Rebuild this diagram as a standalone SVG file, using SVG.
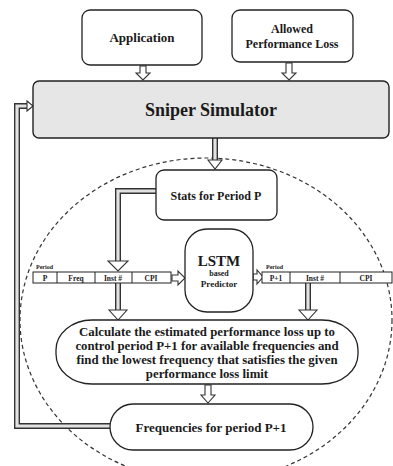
<svg xmlns="http://www.w3.org/2000/svg" width="393" height="466" viewBox="0 0 393 466">
<style>
.box{fill:#fff;stroke:#222;stroke-width:1.3}
.t{font-family:"Liberation Serif","Times New Roman",serif;font-weight:bold;fill:#1a1a1a;text-anchor:middle}
.arr{fill:#fff;stroke:#333;stroke-width:1.1;stroke-linejoin:miter}
.dbo{fill:none;stroke:#333;stroke-width:6}
.dbi{fill:none;stroke:#e2e2e2;stroke-width:3.2}
.cell{fill:#fff;stroke:#222;stroke-width:1}
</style>
<rect width="393" height="466" fill="#fff"/>
<ellipse cx="206" cy="320" rx="186" ry="162" fill="none" stroke="#333" stroke-width="1.2" stroke-dasharray="4 3"/>

<g id="connectors">
  <path class="dbo" d="M110 426 H17 V106 H29"/>
  <path class="dbi" d="M110 426 H17 V106 H29"/>
  <polygon class="arr" points="27,101 33,106 27,111"/>
  <path class="dbo" d="M156 191 H118 V262"/>
  <path class="dbi" d="M156 191 H118 V262"/>
  <polygon class="arr" points="108,261 128,261 118,271"/>
  <path class="dbo" d="M215 138 V161"/>
  <path class="dbi" d="M215 138 V161"/>
  <polygon class="arr" points="208,160 222,160 215,169"/>
  <polygon class="arr" points="140,66 146,66 146,73 150,73 143,80 136,73 140,73"/>
  <polygon class="arr" points="286,63 292,63 292,73 296,73 289,80 282,73 286,73"/>
  <path class="dbo" d="M118 283 V311"/>
  <path class="dbi" d="M118 283 V311"/>
  <polygon class="arr" points="109,310 127,310 118,320"/>
  <path class="dbo" d="M308 283 V311"/>
  <path class="dbi" d="M308 283 V311"/>
  <polygon class="arr" points="299,310 317,310 308,320"/>
  <polygon class="arr" points="172,275 178,275 178,271 185,278 178,285 178,281 172,281"/>
  <polygon class="arr" points="253,274 257,274 257,270 263,277 257,284 257,280 253,280"/>
  <polygon class="arr" points="205,385 211,385 211,395 215,395 208,403 201,395 205,395"/>
</g>

<g id="application">
  <rect class="box" x="82" y="10" width="120" height="55" rx="8"/>
  <text class="t" x="142" y="42" font-size="13">Application</text>
</g>
<g id="allowed">
  <rect class="box" x="232" y="10" width="121" height="52" rx="8"/>
  <text class="t" x="292" y="33" font-size="12">Allowed</text>
  <text class="t" x="292" y="48" font-size="12">Performance Loss</text>
</g>
<g id="sniper">
  <rect x="33" y="81" width="356" height="57" rx="6" fill="#e6e6e6" stroke="#222" stroke-width="1.4"/>
  <text class="t" x="211" y="116" font-size="18">Sniper Simulator</text>
</g>
<g id="stats">
  <rect class="box" x="156" y="170" width="121" height="50" rx="8"/>
  <text class="t" x="216" y="200" font-size="12">Stats for Period P</text>
</g>
<g id="table-p">
  <text class="t" x="36" y="269" font-size="6" style="text-anchor:start">Period</text>
  <rect class="cell" x="33" y="272" width="138" height="11"/>
  <line x1="57" y1="272" x2="57" y2="283" stroke="#222"/>
  <line x1="95" y1="272" x2="95" y2="283" stroke="#222"/>
  <line x1="132" y1="272" x2="132" y2="283" stroke="#222"/>
  <text class="t" x="45" y="281" font-size="7.5">P</text>
  <text class="t" x="76" y="281" font-size="7.5">Freq</text>
  <text class="t" x="113" y="281" font-size="7.5">Inst #</text>
  <text class="t" x="151" y="281" font-size="7.5">CPI</text>
</g>
<g id="lstm">
  <rect class="box" x="185" y="229" width="68" height="83" rx="22"/>
  <text class="t" x="219" y="266" font-size="15">LSTM</text>
  <text class="t" x="219" y="276" font-size="8">based</text>
  <text class="t" x="219" y="287" font-size="9">Predictor</text>
</g>
<g id="table-p1">
  <text class="t" x="266" y="269" font-size="6" style="text-anchor:start">Period</text>
  <rect class="cell" x="262" y="272" width="130" height="11"/>
  <line x1="290" y1="272" x2="290" y2="283" stroke="#222"/>
  <line x1="340" y1="272" x2="340" y2="283" stroke="#222"/>
  <text class="t" x="276" y="281" font-size="7.5">P+1</text>
  <text class="t" x="315" y="281" font-size="7.5">Inst #</text>
  <text class="t" x="366" y="281" font-size="7.5">CPI</text>
</g>
<g id="calculate">
  <rect class="box" x="56" y="320" width="302" height="64" rx="36" ry="30"/>
  <text class="t" x="207" y="336" font-size="12.8">Calculate the estimated performance loss up to</text>
  <text class="t" x="207" y="350" font-size="12.8">control period P+1 for available frequencies and</text>
  <text class="t" x="207" y="364" font-size="12.8">find the lowest frequency that satisfies the given</text>
  <text class="t" x="207" y="378" font-size="12.8">performance loss limit</text>
</g>
<g id="frequencies">
  <rect class="box" x="110" y="404" width="203" height="46" rx="23"/>
  <text class="t" x="211" y="432" font-size="13">Frequencies for period P+1</text>
</g>
</svg>
